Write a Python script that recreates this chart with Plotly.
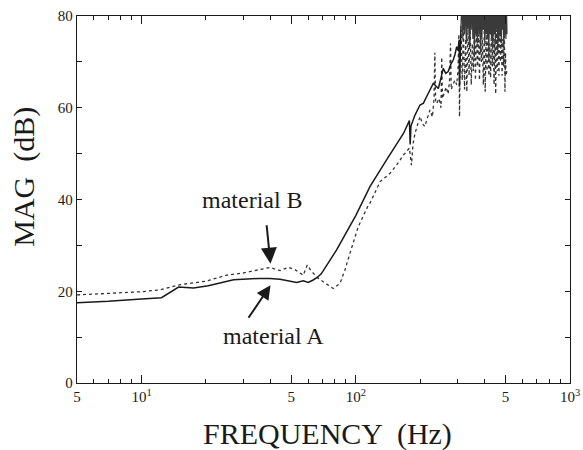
import plotly.graph_objects as go
import math

# ---- data: material A (solid) ----
freq_a = [5, 7, 10, 12.4, 14.9, 17.5, 20.5, 26.9, 35, 39.8, 44.3, 49, 53, 56.9, 60, 63, 66.1, 69, 73.1, 81.4,
          100, 116.5, 139, 167, 178, 179.5, 181, 189, 199.5, 207, 214, 222, 230, 236, 243, 250, 256, 263, 270,
          278, 285, 290, 296, 300, 304, 305, 307, 310]
mag_a = [17.5, 17.8, 18.3, 18.6, 20.9, 20.7, 21.2, 22.5, 22.8, 22.8, 22.6, 22.2, 21.9, 22.3, 21.9, 22.4, 23.0, 23.8, 25.7, 29.0,
         36.5, 42.8, 48.6, 54.4, 57.2, 52.0, 56.0, 58.4, 60.6, 61.0, 62.4, 63.9, 65.3, 64.8, 64.2, 66.5, 68.6, 67.5, 67.9,
         69.5, 70.4, 71.5, 73.3, 72.5, 74.8, 64.6, 75.0, 78]

# material A, noisy band above ~310 Hz
freq_a_hi = [310, 313, 316, 319, 322, 325, 328, 331, 334, 337, 340, 343, 346, 349, 352, 355, 358, 361, 364, 367,
             370, 373, 376, 379, 382, 385, 388, 391, 394, 397, 400, 403, 406, 409, 412, 415, 418, 421, 424, 427,
             430, 433, 436, 439, 442, 445, 448, 451, 454, 457, 460, 463, 466, 469, 472, 475, 478, 481, 484, 487,
             490, 493, 496, 499, 502, 505, 508]
mag_a_hi = [78, 84, 75, 83, 76, 85, 74, 82, 77, 84, 73, 83, 77, 85, 75, 82, 71, 84, 76, 83,
            74, 85, 76, 82, 72, 84, 75, 83, 77, 85, 74, 82, 76, 84, 75, 83, 70, 85, 76, 82,
            75, 84, 73, 83, 76, 85, 74, 82, 77, 84, 72, 83, 75, 85, 76, 82, 74, 84, 77, 83,
            73, 84, 76, 82, 75, 83, 76]

# ---- data: material B (dotted) ----
freq_b = [5, 7, 10, 12.2, 15, 20, 25, 30, 35, 39.8, 44.3, 48.4, 52, 56.9, 59.4, 62, 66.9, 72, 78.5, 84.4,
          89, 94, 102.6, 113.5, 116.5, 130, 144.5, 155, 167, 178, 182, 185, 189, 199.5, 205, 210, 216, 222,
          228, 232, 234, 236, 239, 245, 250, 252, 254, 258, 264, 270, 274, 277, 279, 284, 290, 296, 300,
          303, 305, 307,
          310, 314, 318, 322, 326, 330, 334, 338, 342, 346, 350, 354, 358, 362, 366, 370, 374, 378, 382, 386,
          390, 394, 398, 402, 406, 410, 414, 418, 422, 426, 430, 434, 438, 442, 446, 450, 454, 458, 462, 466,
          470, 474, 478, 482, 486, 490, 494, 497, 500, 503, 507]
mag_b = [19.2, 19.5, 19.9, 20.3, 21.4, 22.2, 23.5, 24.0, 24.7, 25.2, 24.5, 25.2, 24.7, 23.5, 25.7, 24.4, 22.8, 21.8, 20.6, 21.7,
         24.6, 28.3, 34.0, 38.4, 39.2, 43.9, 45.7, 47.5, 49.7, 51.2, 47.5, 52.0, 54.4, 58.1, 56.5, 55.9, 58.0, 59.5,
         58.0, 62.0, 72.0, 61.0, 61.0, 62.0, 60.0, 71.0, 62.0, 63.0, 64.5, 63.0, 66.0, 74.0, 64.0, 65.0, 66.0, 65.0, 68.0,
         76.0, 58.0, 70.0,
         77, 66, 78, 64, 75, 63.5, 77, 67, 78, 65, 74, 68, 77, 66, 78, 69, 76, 66, 78, 70,
         75, 65, 77, 63.5, 76, 68, 78, 67, 74, 66.5, 77, 69, 78, 65, 75, 63, 77, 68, 76, 67,
         78, 70, 76, 67, 75, 69, 77, 63.5, 72, 67, 68]

x_tick_vals = [5, 10, 50, 100, 500, 1000]
x_tick_text = ["5", "10<sup>1</sup>", "5", "10<sup>2</sup>", "5", "10<sup>3</sup>"]
x_minor_vals = [6, 7, 8, 9, 20, 30, 40, 60, 70, 80, 90, 200, 300, 400, 600, 700, 800, 900]
y_tick_vals = [0, 20, 40, 60, 80]

SERIF = "Liberation Serif"
INK = "#1a1a1a"

fig = go.Figure()
fig.add_trace(go.Scatter(x=freq_b, y=mag_b, mode="lines", name="material B",
                         line=dict(color="#333333", width=1.3, dash="dot")))
fig.add_trace(go.Scatter(x=freq_a_hi, y=mag_a_hi, mode="lines", name="material A (band)",
                         line=dict(color="#3a3a3a", width=1.2)))
fig.add_trace(go.Scatter(x=freq_a, y=mag_a, mode="lines", name="material A",
                         line=dict(color=INK, width=1.5)))

# arrows pointing at the two curves
fig.add_annotation(x=math.log10(40), y=26.0, xref="x", yref="y", text="",
                   showarrow=True, arrowhead=2, arrowsize=1.6, arrowwidth=2, arrowcolor=INK,
                   ax=-4, ay=-40)
fig.add_annotation(x=math.log10(40), y=21.3, xref="x", yref="y", text="",
                   showarrow=True, arrowhead=2, arrowsize=1.4, arrowwidth=2, arrowcolor=INK,
                   ax=-23, ay=34)
fig.add_annotation(x=math.log10(32.8), y=39.9, xref="x", yref="y", text="material B",
                   showarrow=False, font=dict(family=SERIF, size=24, color=INK))
fig.add_annotation(x=math.log10(41.5), y=10.2, xref="x", yref="y", text="material A",
                   showarrow=False, font=dict(family=SERIF, size=24, color=INK))

# axis titles
fig.add_annotation(x=0.509, y=-0.139, xref="paper", yref="paper", text="FREQUENCY  (Hz)",
                   showarrow=False, xanchor="center", yanchor="middle",
                   font=dict(family=SERIF, size=30, color=INK))
fig.add_annotation(x=-0.108, y=0.561, xref="paper", yref="paper", text="MAG  (dB)",
                   showarrow=False, xanchor="center", yanchor="middle", textangle=-90,
                   font=dict(family=SERIF, size=30, color=INK))

fig.update_xaxes(type="log", range=[math.log10(5), 3], automargin=False,
                 tickmode="array", tickvals=x_tick_vals, ticktext=x_tick_text,
                 ticklabeloverflow="allow",
                 ticks="inside", ticklen=8, tickwidth=1, tickcolor=INK,
                 minor=dict(tickvals=x_minor_vals, ticks="inside", ticklen=4, tickcolor=INK),
                 showline=True, linecolor=INK, linewidth=1.3, mirror="ticks",
                 showgrid=False, zeroline=False,
                 tickfont=dict(family=SERIF, size=15, color=INK))
fig.update_yaxes(range=[0, 80], automargin=False,
                 tickmode="array", tickvals=y_tick_vals,
                 ticks="inside", ticklen=5, tickwidth=1, tickcolor=INK,
                 minor=dict(dtick=10, ticks="inside", ticklen=5, tickcolor=INK),
                 showline=True, linecolor=INK, linewidth=1.3, mirror="ticks",
                 showgrid=False, zeroline=False,
                 tickfont=dict(family=SERIF, size=15, color=INK))

fig.update_layout(width=583, height=450, margin=dict(l=77, r=13, t=16, b=67),
                  paper_bgcolor="white", plot_bgcolor="white", showlegend=False)

# remove the page's default body margin so the 583x450 figure fills the window exactly
fig.write_html("out.html", config={"displayModeBar": False},
               post_script="document.body.style.margin='0px';document.body.style.overflow='hidden';")
